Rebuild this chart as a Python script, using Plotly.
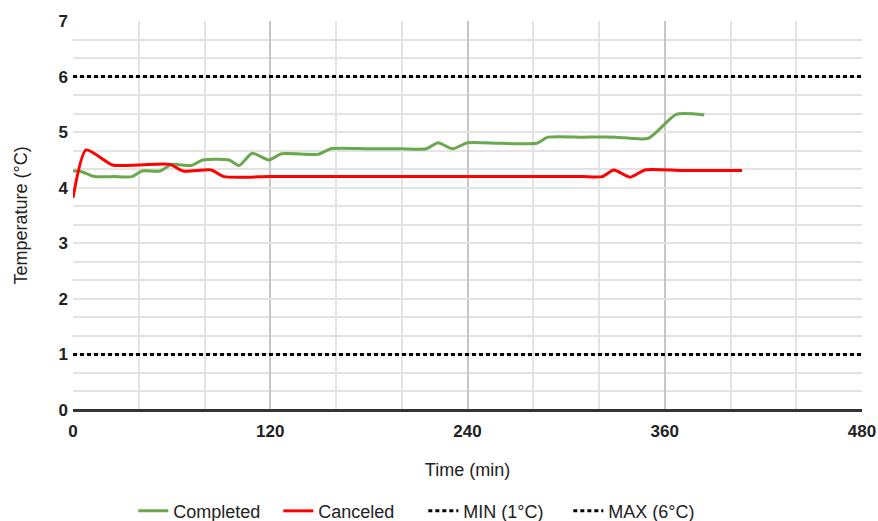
import plotly.graph_objects as go

# Completed series (time in minutes, temperature in °C)
completed_t = [0, 4, 13, 25, 36, 42, 53, 60, 72, 79, 95, 101, 109, 119, 127, 149, 157, 180, 200, 215, 222, 231, 240, 260, 282, 289, 310, 330, 350, 367, 384]
completed_v = [4.3, 4.3, 4.2, 4.2, 4.2, 4.3, 4.3, 4.42, 4.4, 4.5, 4.5, 4.4, 4.62, 4.5, 4.61, 4.6, 4.7, 4.7, 4.7, 4.7, 4.81, 4.7, 4.81, 4.8, 4.8, 4.91, 4.91, 4.91, 4.89, 5.32, 5.31]

# Canceled series
canceled_t = [0, 8, 24, 40, 59, 67, 84, 92, 120, 160, 200, 240, 280, 310, 322, 329, 339, 348, 370, 390, 407]
canceled_v = [3.82, 4.68, 4.41, 4.41, 4.42, 4.3, 4.32, 4.2, 4.2, 4.2, 4.2, 4.2, 4.2, 4.2, 4.2, 4.32, 4.19, 4.32, 4.31, 4.31, 4.31]

# Threshold lines
limit_t = [0, 480]
min_v = [1, 1]
max_v = [6, 6]

x_ticks = [0, 120, 240, 360, 480]
y_ticks = [0, 1, 2, 3, 4, 5, 6, 7]

FONT = "Liberation Sans, Arial, sans-serif"
TXT = "#222222"

fig = go.Figure()
fig.add_trace(go.Scatter(x=completed_t, y=completed_v, mode="lines", name="Completed",
                         line=dict(color="#6aa84f", width=3, shape="spline", smoothing=0.6)))
fig.add_trace(go.Scatter(x=canceled_t, y=canceled_v, mode="lines", name="Canceled",
                         line=dict(color="#ff0000", width=3, shape="spline", smoothing=0.6)))
fig.add_trace(go.Scatter(x=limit_t, y=min_v, mode="lines", name="MIN (1°C)",
                         line=dict(color="#000000", width=3, dash="4px,3px")))
fig.add_trace(go.Scatter(x=limit_t, y=max_v, mode="lines", name="MAX (6°C)",
                         line=dict(color="#000000", width=3, dash="4px,3px")))

fig.update_layout(
    width=878, height=521,
    margin=dict(l=73, r=16, t=21, b=111, autoexpand=False),
    paper_bgcolor="white", plot_bgcolor="white",
    font=dict(family=FONT, size=18, color=TXT),
    showlegend=True,
    legend=dict(orientation="h", x=0.444, xanchor="center", y=-0.26, yanchor="middle",
                font=dict(size=18, color=TXT), traceorder="normal",
                itemwidth=30, entrywidth=100, entrywidthmode="pixels"),
)
fig.update_xaxes(
    range=[0, 480], tickvals=x_ticks, ticktext=[str(v) for v in x_ticks],
    tickfont=dict(family=FONT, size=17, color=TXT, weight="bold"),
    ticklabelstandoff=9, automargin=False,
    showgrid=True, gridcolor="#c6c6c6", gridwidth=1.5,
    minor=dict(dtick=40, tick0=0, showgrid=True, gridcolor="#e3e3e3", gridwidth=1.5),
    zeroline=False, showline=False, ticks="",
    title=dict(text="Time (min)", font=dict(size=18, color=TXT), standoff=23),
)
fig.update_yaxes(
    range=[0, 7], tickvals=y_ticks, ticktext=[str(v) for v in y_ticks],
    tickfont=dict(family=FONT, size=17, color=TXT, weight="bold"),
    ticklabelstandoff=4, automargin=False,
    showgrid=True, gridcolor="#e3e3e3", gridwidth=1.5,
    minor=dict(dtick=1/3, tick0=0, showgrid=True, gridcolor="#e3e3e3", gridwidth=1.5),
    zeroline=True, zerolinecolor="#333333", zerolinewidth=2.5,
    showline=False, ticks="",
    title=dict(text="Temperature (°C)", font=dict(size=18, color=TXT), standoff=26),
)

fig.write_html("out.html", config={"displayModeBar": False},
               post_script="document.body.style.margin='0';")
